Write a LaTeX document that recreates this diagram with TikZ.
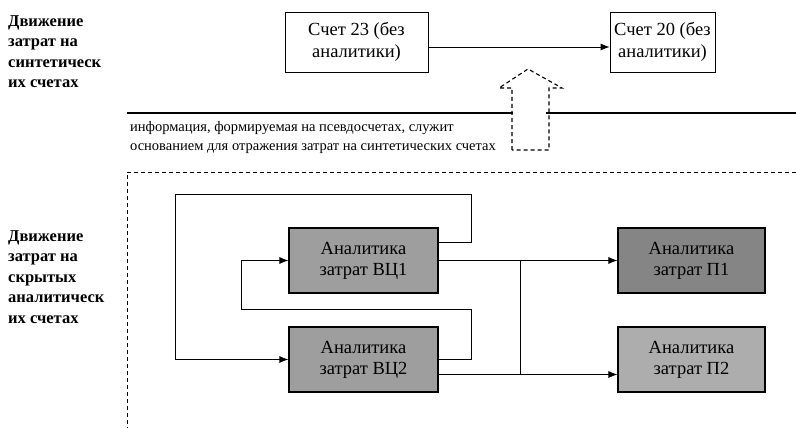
\documentclass[tikz,border=0pt]{standalone}
\usepackage{fontspec}
\setmainfont{Liberation Serif}
\usetikzlibrary{arrows.meta, positioning, calc}
\tikzset{
  acct/.style={draw, line width=0.8pt, minimum width=143pt, minimum height=60pt, align=center, inner sep=0pt, font=\fontsize{18.5}{22}\selectfont},
  anbox/.style={draw, line width=1.2pt, fill=black!38, minimum width=149pt, minimum height=65pt, align=center, inner sep=0pt, font=\fontsize{18.5}{21}\selectfont},
  side/.style={anchor=north west, align=left, inner sep=0pt, font=\bfseries\fontsize{16.5}{20.5}\selectfont},
  arr/.style={line width=0.8pt, -{Latex[length=9pt,width=7pt]}},
  ln/.style={line width=0.8pt}
}
\begin{document}
\begin{tikzpicture}[x=1pt, y=-1pt]
  \useasboundingbox (0,0) rectangle (796,428);
  % Synthetic accounts
  \node[side] (topl) at (8,15) {Движение\\затрат на\\синтетическ\\их счетах};
  \node[acct] (s23) at (356.5,42) {Счет 23 (без\\аналитики)};
  \node[acct, minimum width=105pt] (s20) at (662.5,42) {Счет 20 (без\\аналитики)};
  \draw[arr] ([yshift=-5pt]s23.east) -- ([yshift=-5pt]s20.west);
  % Separator and block arrow
  \draw[line width=2pt] (127,113) -- (513,113);
  \draw[line width=2pt] (546,113) -- (796,113);
  \draw[line width=1.1pt, dash pattern=on 4pt off 3pt] (512,150) -- (512,88) -- (499,88) -- (528,69) -- (562,88) -- (549,88) -- (549,150) -- cycle;
  \node[anchor=north west, align=left, inner sep=0pt, font=\fontsize{14.5}{19}\selectfont] (info) at (130,121)
    {информация, формируемая на псевдосчетах, служит\\основанием для отражения затрат на синтетических счетах};
  % Hidden analytical accounts
  \draw[line width=1pt, dash pattern=on 4pt off 3pt] (796,172) -- (127,172) -- (127,428);
  \node[side] (botl) at (8,230) {Движение\\затрат на\\скрытых\\аналитическ\\их счетах};
  \node[anbox] (vc1) at (363.5,260.5) {Аналитика\\затрат ВЦ1};
  \node[anbox] (vc2) at (363.5,359.5) {Аналитика\\затрат ВЦ2};
  \node[anbox, minimum width=147pt, fill=black!48] (p1) at (691.5,260.5) {Аналитика\\затрат П1};
  \node[anbox, minimum width=147pt, fill=black!32] (p2) at (691.5,359.5) {Аналитика\\затрат П2};
  \coordinate (outR) at (471,194);
  \coordinate (outL) at (175,194);
  \coordinate (inR) at (471,309);
  \coordinate (inL) at (241,309);
  \coordinate (jn) at (520,260);
  \coordinate (v2out) at ([yshift=-15pt]vc2.east);
  \draw[arr] ([yshift=18pt]vc1.east) -| (outR) -- (outL) |- (vc2.west);
  \draw[arr] (vc2.east) -| (inR) -- (inL) |- (vc1.west);
  \draw[arr] (vc1.east) -- (p1.west);
  \draw[arr] (v2out) -- (v2out -| p2.west);
  \draw[ln] (vc1.east -| jn) -- (v2out -| jn);
\end{tikzpicture}
\end{document}
